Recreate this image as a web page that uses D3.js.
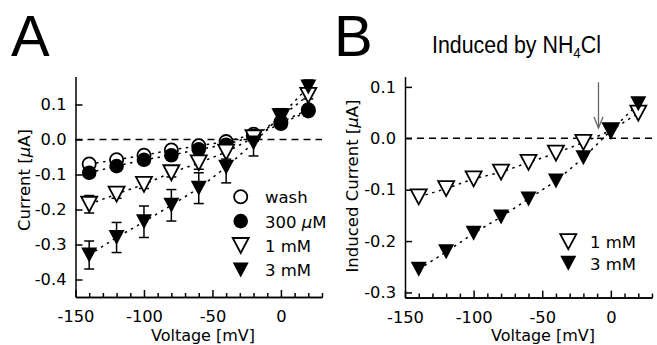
<!DOCTYPE html>
<html><head><meta charset="utf-8">
<script src="https://cdn.jsdelivr.net/npm/d3@7"></script>
<style>body{margin:0;background:#fff}svg{display:block}</style>
</head><body><svg id="c" width="657" height="345"></svg>
<script>
// ---- data ----
const voltages = [-140, -120, -100, -80, -60, -40, -20, 0, 20];
const washA   = [-0.070, -0.058, -0.045, -0.030, -0.018, -0.006, 0.015, 0.050, 0.085];
const uM300A  = [-0.095, -0.076, -0.058, -0.045, -0.028, -0.015, 0.010, 0.045, 0.081];
const mM1A    = [-0.185, -0.156, -0.128, -0.095, -0.067, -0.036, 0.005, 0.065, 0.126];
const mM1ErrA = [0.025, 0.012, 0.012, 0.012, 0.018, 0.020, 0.010, 0.010, 0.010];
const mM3A    = [-0.330, -0.280, -0.235, -0.188, -0.139, -0.079, -0.010, 0.068, 0.150];
const mM3ErrA = [0.040, 0.043, 0.045, 0.045, 0.044, 0.045, 0.037, 0.020, 0.020];
const mM1B    = [-0.114, -0.098, -0.079, -0.066, -0.047, -0.029, -0.008, 0.015, 0.049];
const mM3B    = [-0.255, -0.221, -0.185, -0.153, -0.118, -0.083, -0.038, 0.015, 0.067];
const xTicks  = [-150, -100, -50, 0];
const xMinor  = [-140,-130,-120,-110,-90,-80,-70,-60,-40,-30,-20,-10,10,20,30];
const yTicksA = [0.1, 0.0, -0.1, -0.2, -0.3, -0.4];
const yTicksB = [0.1, 0.0, -0.1, -0.2, -0.3];
const legendA = ["wash", "300 μM", "1 mM", "3 mM"];
const legendB = ["1 mM", "3 mM"];
const arrowB  = {v: -9, top: 0.109, tip: 0.02};

const svg = d3.select("#c");
const FONT = "'DejaVu Sans', sans-serif";
const tri = "M-8,-7.5L8,-7.5L0,7.5Z";

function panel(cfg) {
  const g = svg.append("g");
  const x = d3.scaleLinear().domain([-150, 30]).range(cfg.xr);
  const y = d3.scaleLinear().domain(cfg.yd).range(cfg.yr);
  g.append("line").attr("x1", cfg.xr[0]).attr("x2", cfg.xr[1])
    .attr("y1", y(0)).attr("y2", y(0))
    .attr("stroke", "#000").attr("stroke-width", 1.4).attr("stroke-dasharray", "7,5");
  const xa = g.append("g").attr("transform", `translate(0,${cfg.yr[0]})`)
    .call(d3.axisBottom(x).tickValues(xMinor).tickSizeInner(-4).tickSizeOuter(0).tickFormat(""));
  const xb = g.append("g").attr("transform", `translate(0,${cfg.yr[0]})`)
    .call(d3.axisBottom(x).tickValues(xTicks).tickSizeInner(-7).tickSizeOuter(0)
      .tickPadding(13.5).tickFormat(d => String(d)));
  const ya = g.append("g").attr("transform", `translate(${cfg.xr[0]},0)`)
    .call(d3.axisLeft(y).tickValues(cfg.yt).tickSizeInner(-7).tickSizeOuter(0)
      .tickPadding(9).tickFormat(d => d.toFixed(1)));
  [xa, xb, ya].forEach(a => {
    a.selectAll("path,line").attr("stroke", "#000").attr("stroke-width", 1.5);
    a.selectAll("text").attr("font-family", FONT).attr("font-size", 16.3).attr("fill", "#000");
  });
  g.append("text").attr("x", cfg.xlab[0]).attr("y", cfg.xlab[1]).attr("text-anchor", "middle")
    .attr("font-family", FONT).attr("font-size", 16).text("Voltage [mV]");
  const yl = g.append("text").attr("transform", `translate(${cfg.ylab[0]},${cfg.ylab[1]}) rotate(-90)`)
    .attr("text-anchor", "middle").attr("font-family", FONT).attr("font-size", 16.5);
  yl.append("tspan").text(cfg.ytitle + " [");
  yl.append("tspan").attr("font-style", "italic").text("μ");
  yl.append("tspan").text("A]");
  return {g, x, y};
}

function series(p, vals, kind, errs) {
  const pts = voltages.map((v, i) => [v, vals[i]]);
  p.g.append("path").datum(pts)
    .attr("d", d3.line().x(d => p.x(d[0])).y(d => p.y(d[1])))
    .attr("fill", "none").attr("stroke", "#000").attr("stroke-width", 1.5)
    .attr("stroke-dasharray", "2.5,4.5");
  return {pts, kind, errs};
}
function errorbars(p, s) {
  if (!s.errs) return;
  const eg = p.g.append("g").attr("stroke", "#000").attr("stroke-width", 1.5);
  s.pts.forEach((d, i) => {
    const cx = p.x(d[0]), y1 = p.y(d[1] - s.errs[i]), y2 = p.y(d[1] + s.errs[i]);
    eg.append("line").attr("x1", cx).attr("x2", cx).attr("y1", y1).attr("y2", y2);
    eg.append("line").attr("x1", cx - 5).attr("x2", cx + 5).attr("y1", y1).attr("y2", y1);
    eg.append("line").attr("x1", cx - 5).attr("x2", cx + 5).attr("y1", y2).attr("y2", y2);
  });
}
function marker(sel, kind) {
  if (kind === "oc") return sel.append("circle").attr("r", 6.6).attr("fill", "#fff").attr("stroke", "#000").attr("stroke-width", 1.8);
  if (kind === "fc") return sel.append("circle").attr("r", 7.3).attr("fill", "#000");
  if (kind === "ot") return sel.append("path").attr("d", tri).attr("fill", "#fff").attr("stroke", "#000").attr("stroke-width", 1.8).attr("stroke-linejoin", "miter");
  return sel.append("path").attr("d", tri).attr("fill", "#000");
}
function markers(p, s) {
  s.pts.forEach(d => {
    const m = p.g.append("g").attr("transform", `translate(${p.x(d[0])},${p.y(d[1])})`);
    marker(m, s.kind);
  });
}
function legend(p, items, kinds, mx, my0, dy, tx) {
  items.forEach((t, i) => {
    const m = p.g.append("g").attr("transform", `translate(${mx},${my0 + i * dy})`);
    marker(m, kinds[i]);
    const tt = p.g.append("text").attr("x", tx).attr("y", my0 + i * dy + 6.5)
      .attr("font-family", FONT).attr("font-size", 16.5);
    const mu = t.indexOf("μ");
    if (mu >= 0) {
      tt.append("tspan").text(t.slice(0, mu));
      tt.append("tspan").attr("font-style", "italic").text("μ");
      tt.append("tspan").text(t.slice(mu + 1));
    } else tt.text(t);
  });
}

// ---- Panel A ----
const A = panel({xr: [75.5, 322], yd: [-0.45, 0.18], yr: [297, 76.5], yt: yTicksA,
  xlab: [203, 340.5], ylab: [29.5, 180], ytitle: "Current"});
const sA = [series(A, washA, "oc"), series(A, uM300A, "fc"),
            series(A, mM1A, "ot", mM1ErrA), series(A, mM3A, "ft", mM3ErrA)];
sA.forEach(s => errorbars(A, s));
sA.forEach(s => markers(A, s));
legend(A, legendA, ["oc", "fc", "ot", "ft"], 240.7, 196.7, 24.4, 265);

// ---- Panel B ----
const B = panel({xr: [405, 652], yd: [-0.31, 0.12], yr: [297.6, 76.6], yt: yTicksB,
  xlab: [543, 340.5], ylab: [358, 186], ytitle: "Induced Current"});
const sB = [series(B, mM1B, "ot"), series(B, mM3B, "ft")];
sB.forEach(s => markers(B, s));
legend(B, legendB, ["ot", "ft"], 568.3, 241.7, 21.6, 590);

const ax = B.x(arrowB.v), at = B.y(arrowB.top), ap = B.y(arrowB.tip);
B.g.append("line").attr("x1", ax).attr("x2", ax).attr("y1", at).attr("y2", ap)
  .attr("stroke", "#666").attr("stroke-width", 1.3);
B.g.append("path").attr("d", `M${ax - 4.5},${ap - 11}L${ax},${ap}L${ax + 4.5},${ap - 11}`)
  .attr("fill", "none").attr("stroke", "#666").attr("stroke-width", 1.3);

// ---- panel letters & title ----
const LS = "'Liberation Sans', Arial, sans-serif";
svg.append("text").attr("x", 11).attr("y", 56).attr("font-family", LS).attr("font-size", 58).text("A");
svg.append("text").attr("x", 334).attr("y", 56).attr("font-family", LS).attr("font-size", 58).text("B");
const tg = svg.append("g");
const ti = tg.append("text").attr("x", 0).attr("y", 0).attr("font-family", LS).attr("font-size", 24);
ti.append("tspan").text("Induced by NH");
ti.append("tspan").attr("font-size", 15).attr("dy", 5).text("4");
ti.append("tspan").attr("dy", -5).text("Cl");
const tw = ti.node().getBBox().width;
tg.attr("transform", `translate(432,53) scale(${169 / tw},1)`);
</script></body></html>
